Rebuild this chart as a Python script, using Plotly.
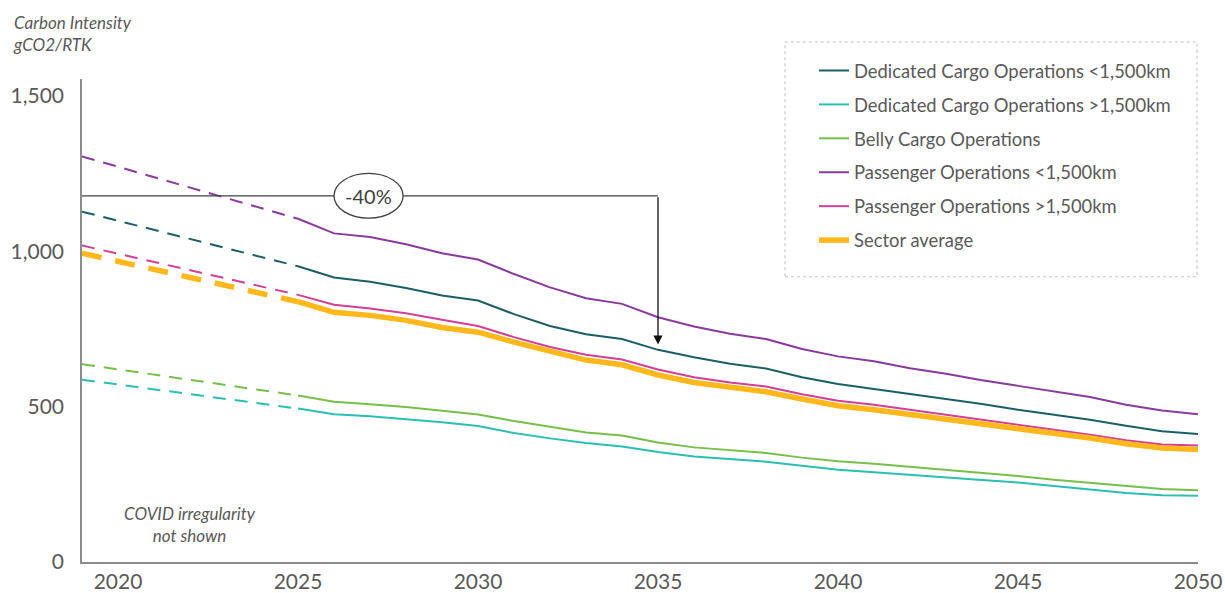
import plotly.graph_objects as go

# ---------------- data ----------------
years_proj = list(range(2025, 2051))
years_dash = [2019, 2025]

series_names = [
    "Dedicated Cargo Operations <1,500km",
    "Dedicated Cargo Operations >1,500km",
    "Belly Cargo Operations",
    "Passenger Operations <1,500km",
    "Passenger Operations >1,500km",
    "Sector average",
]

start_2019 = [1128, 587, 637, 1306, 1019, 994]

dc_short = [952, 916, 902, 882, 858, 842, 798, 760, 733, 718, 683, 659, 638, 623, 595,
            573, 557, 541, 526, 509, 490, 474, 458, 439, 421, 412]
dc_long = [494, 476, 469, 460, 450, 438, 415, 398, 383, 372, 354, 340, 332, 323, 310,
           297, 289, 280, 273, 264, 256, 244, 233, 222, 215, 213]
belly = [536, 516, 508, 499, 487, 475, 454, 435, 417, 407, 385, 369, 359, 351, 336,
         324, 316, 306, 297, 288, 277, 265, 255, 244, 235, 231]
pax_short = [1105, 1058, 1046, 1023, 994, 974, 927, 884, 849, 831, 788, 758, 735, 718, 686,
             662, 646, 624, 606, 585, 567, 549, 531, 506, 488, 476]
pax_long = [860, 828, 816, 801, 780, 760, 724, 692, 667, 652, 620, 595, 578, 565, 540,
            519, 506, 490, 476, 459, 442, 426, 410, 392, 378, 375]
sector = [838, 804, 794, 778, 755, 740, 708, 677, 650, 635, 602, 578, 561, 548, 525,
          503, 490, 475, 462, 448, 431, 415, 399, 381, 367, 362]

series_values = [dc_short, dc_long, belly, pax_short, pax_long, sector]

x_ticks = [2020, 2025, 2030, 2035, 2040, 2045, 2050]
y_ticks = [0, 500, 1000, 1500]
y_tick_labels = ["0", "500", "1,000", "1,500"]

reduction_label = "-40%"
reduction_start_year = 2019
reduction_end_year = 2035
reduction_level = 1179
reduction_target = 700

# ---------------- styles ----------------
colors = ["#1b5f66", "#2bbfb3", "#76bf4a", "#8a3a9c", "#d23f95", "#ffb81c"]
widths = [2, 2, 2, 2, 2, 5.5]
dash_patterns = ["13px,9px"] * 5 + ["20px,14px"]

FONT = "Lato"
GREY = "#595959"

fig = go.Figure()

for i, name in enumerate(series_names):
    fig.add_trace(go.Scatter(
        x=years_dash, y=[start_2019[i], series_values[i][0]],
        mode="lines", line=dict(color=colors[i], width=widths[i], dash=dash_patterns[i]),
        showlegend=False, legendgroup=f"g{i}", hoverinfo="skip",
    ))
for i, name in enumerate(series_names):
    fig.add_trace(go.Scatter(
        x=years_proj, y=series_values[i], name=name,
        mode="lines", line=dict(color=colors[i], width=widths[i]),
        legendgroup=f"g{i}",
    ))

# -40% bracket
fig.add_shape(type="line", xref="x", yref="y",
              x0=reduction_start_year, x1=reduction_end_year,
              y0=reduction_level, y1=reduction_level,
              line=dict(color="#404040", width=1.3))
fig.add_annotation(x=reduction_end_year, y=reduction_target, ax=reduction_end_year,
                   ay=reduction_level, xref="x", yref="y", axref="x", ayref="y",
                   text="", showarrow=True, arrowhead=2, arrowsize=1.4,
                   arrowwidth=1.3, arrowcolor="#111111")
fig.add_shape(type="circle", xref="x", yref="y",
              x0=2026.0, x1=2027.92, y0=reduction_level - 72, y1=reduction_level + 72,
              line=dict(color="#404040", width=1.3), fillcolor="white")
fig.add_annotation(x=2026.96, y=reduction_level, xref="x", yref="y",
                   text=reduction_label, showarrow=False,
                   font=dict(family=FONT, size=20, color="#404040"))

# legend border (dotted)
fig.add_shape(type="rect", xref="paper", yref="paper",
              x0=(785 - 82) / 1116, x1=(1197 - 82) / 1116,
              y0=(562.5 - 277) / 483.5, y1=(562.5 - 42) / 483.5,
              line=dict(color="#bfbfbf", width=1, dash="dot"))

# text annotations
fig.add_annotation(xref="paper", yref="paper", x=(11 - 82) / 1116, y=(562.5 - 10) / 483.5,
                   xanchor="left", yanchor="top", align="left", showarrow=False,
                   text="<i>Carbon Intensity</i><br><i>gCO2/RTK</i>",
                   font=dict(family=FONT, size=17, color=GREY))
fig.add_annotation(x=2022.0, y=122, xref="x", yref="y", showarrow=False,
                   text="<i>COVID irregularity</i><br><i>not shown</i>",
                   font=dict(family=FONT, size=17, color=GREY))

fig.update_layout(
    width=1225, height=593,
    margin=dict(l=82, r=27, t=79, b=31),
    plot_bgcolor="white", paper_bgcolor="white",
    font=dict(family=FONT, color=GREY),
    legend=dict(
        x=(814 - 82) / 1116, y=(562.5 - 52) / 483.5, xanchor="left", yanchor="top",
        bgcolor="rgba(0,0,0,0)", borderwidth=0, tracegroupgap=7,
        font=dict(family=FONT, size=18.4, color=GREY),
    ),
    xaxis=dict(range=[2019, 2050], tickvals=x_ticks, showgrid=False, zeroline=False,
               showline=True, linecolor="#8c8c8c", linewidth=1.5, ticks="",
               automargin=False,
               tickfont=dict(family=FONT, size=21, color=GREY)),
    yaxis=dict(range=[0, 1555], tickvals=y_ticks, ticktext=y_tick_labels, showgrid=False,
               zeroline=False, showline=True, linecolor="#8c8c8c", linewidth=1.5, ticks="",
               ticklabelstandoff=12, automargin=False,
               tickfont=dict(family=FONT, size=21, color=GREY)),
)

fig.write_html("out.html")
